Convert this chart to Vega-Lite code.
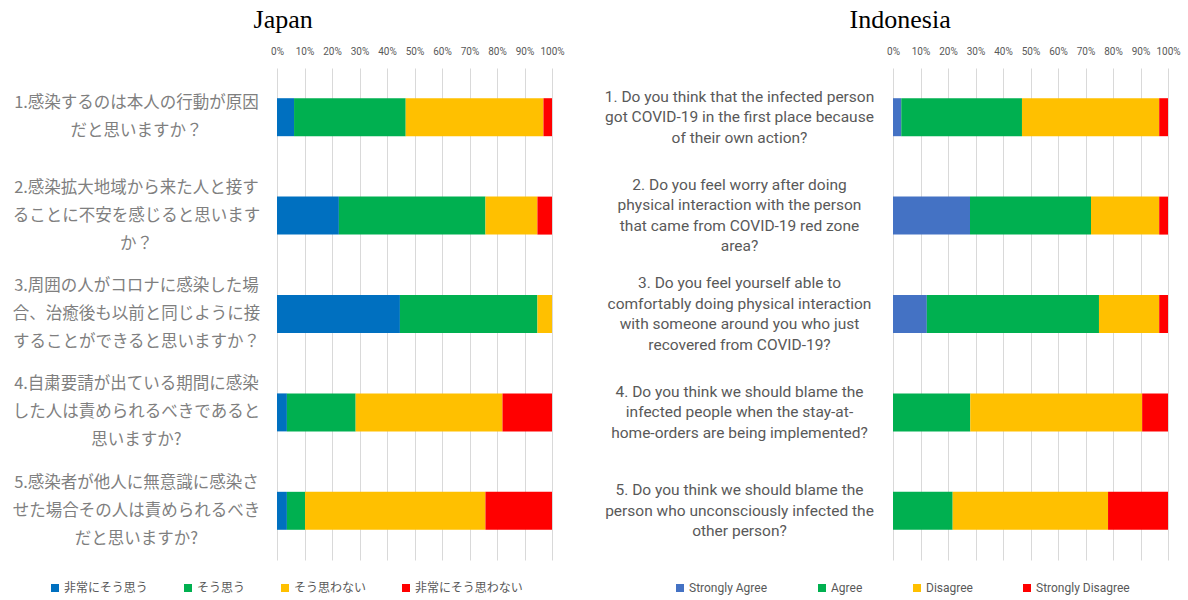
{
  "$schema": "https://vega.github.io/schema/vega-lite/v6.json",
  "background": "white",
  "padding": {"left": 12, "top": 7, "right": 5, "bottom": 5},
  "datasets": {
    "japan": [
      {"q": "1.感染するのは本人の行動が原因|だと思いますか？", "cat": "非常にそう思う", "o": 1, "pct": 6.2},
      {"q": "1.感染するのは本人の行動が原因|だと思いますか？", "cat": "そう思う", "o": 2, "pct": 40.6},
      {"q": "1.感染するのは本人の行動が原因|だと思いますか？", "cat": "そう思わない", "o": 3, "pct": 50.1},
      {"q": "1.感染するのは本人の行動が原因|だと思いますか？", "cat": "非常にそう思わない", "o": 4, "pct": 3.1},
      {"q": "2.感染拡大地域から来た人と接す|ることに不安を感じると思います|か？", "cat": "非常にそう思う", "o": 1, "pct": 22.5},
      {"q": "2.感染拡大地域から来た人と接す|ることに不安を感じると思います|か？", "cat": "そう思う", "o": 2, "pct": 53.3},
      {"q": "2.感染拡大地域から来た人と接す|ることに不安を感じると思います|か？", "cat": "そう思わない", "o": 3, "pct": 18.9},
      {"q": "2.感染拡大地域から来た人と接す|ることに不安を感じると思います|か？", "cat": "非常にそう思わない", "o": 4, "pct": 5.3},
      {"q": "3.周囲の人がコロナに感染した場|合、治癒後も以前と同じように接|することができると思いますか？", "cat": "非常にそう思う", "o": 1, "pct": 44.7},
      {"q": "3.周囲の人がコロナに感染した場|合、治癒後も以前と同じように接|することができると思いますか？", "cat": "そう思う", "o": 2, "pct": 50.0},
      {"q": "3.周囲の人がコロナに感染した場|合、治癒後も以前と同じように接|することができると思いますか？", "cat": "そう思わない", "o": 3, "pct": 5.3},
      {"q": "3.周囲の人がコロナに感染した場|合、治癒後も以前と同じように接|することができると思いますか？", "cat": "非常にそう思わない", "o": 4, "pct": 0},
      {"q": "4.自粛要請が出ている期間に感染|した人は責められるべきであると|思いますか?", "cat": "非常にそう思う", "o": 1, "pct": 3.6},
      {"q": "4.自粛要請が出ている期間に感染|した人は責められるべきであると|思いますか?", "cat": "そう思う", "o": 2, "pct": 25.0},
      {"q": "4.自粛要請が出ている期間に感染|した人は責められるべきであると|思いますか?", "cat": "そう思わない", "o": 3, "pct": 53.4},
      {"q": "4.自粛要請が出ている期間に感染|した人は責められるべきであると|思いますか?", "cat": "非常にそう思わない", "o": 4, "pct": 18.0},
      {"q": "5.感染者が他人に無意識に感染さ|せた場合その人は責められるべき|だと思いますか?", "cat": "非常にそう思う", "o": 1, "pct": 3.6},
      {"q": "5.感染者が他人に無意識に感染さ|せた場合その人は責められるべき|だと思いますか?", "cat": "そう思う", "o": 2, "pct": 6.6},
      {"q": "5.感染者が他人に無意識に感染さ|せた場合その人は責められるべき|だと思いますか?", "cat": "そう思わない", "o": 3, "pct": 65.6},
      {"q": "5.感染者が他人に無意識に感染さ|せた場合その人は責められるべき|だと思いますか?", "cat": "非常にそう思わない", "o": 4, "pct": 24.2}
    ],
    "indonesia": [
      {"q": "1. Do you think that the infected person|got COVID-19 in the first place because|of their own action?", "cat": "Strongly Agree", "o": 1, "pct": 3.0},
      {"q": "1. Do you think that the infected person|got COVID-19 in the first place because|of their own action?", "cat": "Agree", "o": 2, "pct": 43.9},
      {"q": "1. Do you think that the infected person|got COVID-19 in the first place because|of their own action?", "cat": "Disagree", "o": 3, "pct": 49.9},
      {"q": "1. Do you think that the infected person|got COVID-19 in the first place because|of their own action?", "cat": "Strongly Disagree", "o": 4, "pct": 3.2},
      {"q": "2. Do you feel worry after doing|physical interaction with the person|that came from COVID-19 red zone|area?", "cat": "Strongly Agree", "o": 1, "pct": 28.0},
      {"q": "2. Do you feel worry after doing|physical interaction with the person|that came from COVID-19 red zone|area?", "cat": "Agree", "o": 2, "pct": 44.0},
      {"q": "2. Do you feel worry after doing|physical interaction with the person|that came from COVID-19 red zone|area?", "cat": "Disagree", "o": 3, "pct": 24.8},
      {"q": "2. Do you feel worry after doing|physical interaction with the person|that came from COVID-19 red zone|area?", "cat": "Strongly Disagree", "o": 4, "pct": 3.2},
      {"q": "3. Do you feel yourself able to|comfortably doing physical interaction|with someone around you who just|recovered from COVID-19?", "cat": "Strongly Agree", "o": 1, "pct": 12.3},
      {"q": "3. Do you feel yourself able to|comfortably doing physical interaction|with someone around you who just|recovered from COVID-19?", "cat": "Agree", "o": 2, "pct": 62.6},
      {"q": "3. Do you feel yourself able to|comfortably doing physical interaction|with someone around you who just|recovered from COVID-19?", "cat": "Disagree", "o": 3, "pct": 21.9},
      {"q": "3. Do you feel yourself able to|comfortably doing physical interaction|with someone around you who just|recovered from COVID-19?", "cat": "Strongly Disagree", "o": 4, "pct": 3.2},
      {"q": "4. Do you think we should blame the|infected people when the stay-at-|home-orders are being implemented?", "cat": "Strongly Agree", "o": 1, "pct": 0},
      {"q": "4. Do you think we should blame the|infected people when the stay-at-|home-orders are being implemented?", "cat": "Agree", "o": 2, "pct": 28.1},
      {"q": "4. Do you think we should blame the|infected people when the stay-at-|home-orders are being implemented?", "cat": "Disagree", "o": 3, "pct": 62.5},
      {"q": "4. Do you think we should blame the|infected people when the stay-at-|home-orders are being implemented?", "cat": "Strongly Disagree", "o": 4, "pct": 9.4},
      {"q": "5. Do you think we should blame the|person who unconsciously infected the|other person?", "cat": "Strongly Agree", "o": 1, "pct": 0},
      {"q": "5. Do you think we should blame the|person who unconsciously infected the|other person?", "cat": "Agree", "o": 2, "pct": 21.7},
      {"q": "5. Do you think we should blame the|person who unconsciously infected the|other person?", "cat": "Disagree", "o": 3, "pct": 56.5},
      {"q": "5. Do you think we should blame the|person who unconsciously infected the|other person?", "cat": "Strongly Disagree", "o": 4, "pct": 21.8}
    ]
  },
  "spacing": 39,
  "hconcat": [
    {
      "title": {"text": "Japan", "font": "Liberation Serif", "fontSize": 26, "fontWeight": "normal", "color": "#000000", "anchor": "middle", "frame": "bounds", "offset": 13, "dx": -5},
      "width": 275,
      "height": 492,
      "data": {"name": "japan"},
      "mark": {"type": "bar"},
      "encoding": {
        "y": {
          "field": "q", "type": "nominal", "sort": null,
          "scale": {"paddingInner": 0.614, "paddingOuter": 0.307},
          "axis": {"title": null, "labelExpr": "split(datum.label, '|')", "labelAlign": "center", "labelBaseline": "middle", "labelPadding": 141, "ticks": false, "tickSize": 0, "domain": false, "labelFont": "Noto Sans CJK JP", "labelFontSize": 16.5, "labelColor": "#7F7F7F", "labelLineHeight": 28, "labelLimit": 400,
            "labelOffset": {"condition": {"test": "length(split(datum.value, '|')) == 3", "value": -28}, "value": -14}}
        },
        "x": {
          "field": "pct", "type": "quantitative", "stack": "normalize",
          "scale": {"domain": [0, 1], "nice": false},
          "axis": {"orient": "top", "title": null, "values": [0, 0.1, 0.2, 0.3, 0.4, 0.5, 0.6, 0.7, 0.8, 0.9, 1], "format": "0%", "grid": true, "gridColor": "#D9D9D9", "gridWidth": 1, "domain": false, "ticks": false, "tickSize": 0, "labelPadding": 12, "labelFont": "Roboto", "labelFontSize": 10, "labelColor": "#595959", "labelOverlap": false, "labelFlush": false}
        },
        "color": {
          "field": "cat", "type": "nominal",
          "scale": {"domain": ["非常にそう思う", "そう思う", "そう思わない", "非常にそう思わない"], "range": ["#0070C0", "#00B050", "#FFC000", "#FF0000"]},
          "legend": {"orient": "none", "legendX": -228, "legendY": 514, "direction": "horizontal", "columns": 4, "title": null, "symbolType": "square", "symbolSize": 64, "symbolStrokeWidth": 0, "labelFont": "Noto Sans CJK JP", "labelFontSize": 12, "labelColor": "#595959", "columnPadding": 33, "labelOffset": 3, "labelLimit": 300}
        },
        "order": {"field": "o", "type": "quantitative"}
      }
    },
    {
      "title": {"text": "Indonesia", "font": "Liberation Serif", "fontSize": 26, "fontWeight": "normal", "color": "#000000", "anchor": "middle", "frame": "bounds", "offset": 13, "dx": 8},
      "width": 275,
      "height": 492,
      "data": {"name": "indonesia"},
      "mark": {"type": "bar"},
      "encoding": {
        "y": {
          "field": "q", "type": "nominal", "sort": null,
          "scale": {"paddingInner": 0.614, "paddingOuter": 0.307},
          "axis": {"title": null, "labelExpr": "split(datum.label, '|')", "labelAlign": "center", "labelBaseline": "middle", "labelPadding": 154, "ticks": false, "tickSize": 0, "domain": false, "labelFont": "Roboto", "labelFontSize": 15.5, "labelColor": "#595959", "labelLineHeight": 20.5, "labelLimit": 400,
            "labelOffset": {"condition": {"test": "length(split(datum.value, '|')) == 4", "value": -30.75}, "value": -20.5}}
        },
        "x": {
          "field": "pct", "type": "quantitative", "stack": "normalize",
          "scale": {"domain": [0, 1], "nice": false},
          "axis": {"orient": "top", "title": null, "values": [0, 0.1, 0.2, 0.3, 0.4, 0.5, 0.6, 0.7, 0.8, 0.9, 1], "format": "0%", "grid": true, "gridColor": "#D9D9D9", "gridWidth": 1, "domain": false, "ticks": false, "tickSize": 0, "labelPadding": 12, "labelFont": "Roboto", "labelFontSize": 10, "labelColor": "#595959", "labelOverlap": false, "labelFlush": false}
        },
        "color": {
          "field": "cat", "type": "nominal",
          "scale": {"domain": ["Strongly Agree", "Agree", "Disagree", "Strongly Disagree"], "range": ["#4472C4", "#00B050", "#FFC000", "#FF0000"]},
          "legend": {"orient": "none", "legendX": -219, "legendY": 514, "direction": "horizontal", "columns": 4, "title": null, "symbolType": "square", "symbolSize": 64, "symbolStrokeWidth": 0, "labelFont": "Roboto", "labelFontSize": 12, "labelColor": "#595959", "columnPadding": 48, "labelOffset": 3, "labelLimit": 300}
        },
        "order": {"field": "o", "type": "quantitative"}
      }
    }
  ],
  "resolve": {"scale": {"color": "independent", "x": "independent", "y": "independent"}, "legend": {"color": "independent"}},
  "config": {"view": {"stroke": null}}
}
